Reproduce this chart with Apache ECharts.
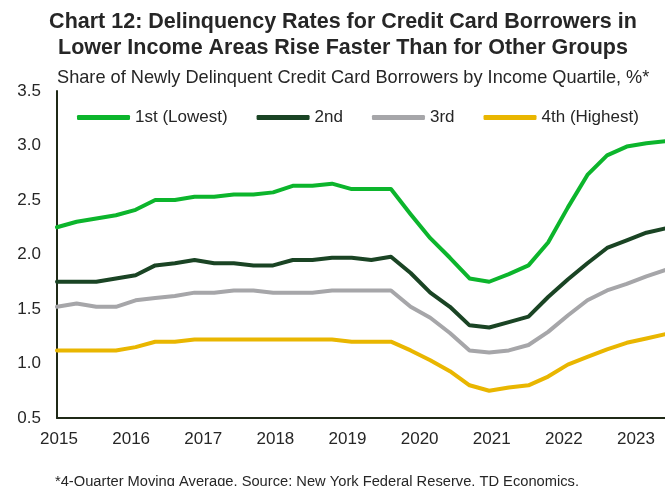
<!DOCTYPE html>
<html>
<head>
<meta charset="utf-8">
<script src="https://cdn.jsdelivr.net/npm/echarts@6/dist/echarts.min.js"></script>
<style>
  html, body { margin: 0; padding: 0; background: #ffffff; }
  #chart { width: 665px; height: 486px; }
</style>
</head>
<body>
<div id="chart"></div>
<script>
// Quarterly observations (4-quarter moving average)
const periods = [
  '2015Q3','2015Q4','2016Q1','2016Q2','2016Q3','2016Q4','2017Q1','2017Q2',
  '2017Q3','2017Q4','2018Q1','2018Q2','2018Q3','2018Q4','2019Q1','2019Q2',
  '2019Q3','2019Q4','2020Q1','2020Q2','2020Q3','2020Q4','2021Q1','2021Q2',
  '2021Q3','2021Q4','2022Q1','2022Q2','2022Q3','2022Q4','2023Q1','2023Q2'
];

// Share of newly delinquent credit card borrowers, % — by income quartile
const q1Lowest = [
  2.25, 2.30, 2.33, 2.36, 2.41, 2.50, 2.50, 2.53, 2.53, 2.55, 2.55, 2.57,
  2.63, 2.63, 2.65, 2.60, 2.60, 2.60, 2.37, 2.15, 1.97, 1.78, 1.75, 1.82,
  1.90, 2.11, 2.43, 2.73, 2.91, 2.99, 3.02, 3.04
];
const q2 = [
  1.75, 1.75, 1.75, 1.78, 1.81, 1.90, 1.92, 1.95, 1.92, 1.92, 1.90, 1.90,
  1.95, 1.95, 1.97, 1.97, 1.95, 1.98, 1.83, 1.65, 1.52, 1.35, 1.33, 1.38,
  1.43, 1.61, 1.77, 1.92, 2.06, 2.13, 2.20, 2.24
];
const q3 = [
  1.52, 1.55, 1.52, 1.52, 1.58, 1.60, 1.62, 1.65, 1.65, 1.67, 1.67, 1.65,
  1.65, 1.65, 1.67, 1.67, 1.67, 1.67, 1.52, 1.42, 1.28, 1.12, 1.10, 1.12,
  1.17, 1.29, 1.44, 1.58, 1.67, 1.73, 1.80, 1.86
];
const q4Highest = [
  1.12, 1.12, 1.12, 1.12, 1.15, 1.20, 1.20, 1.22, 1.22, 1.22, 1.22, 1.22,
  1.22, 1.22, 1.22, 1.20, 1.20, 1.20, 1.12, 1.03, 0.93, 0.80, 0.75, 0.78,
  0.80, 0.88, 0.99, 1.06, 1.13, 1.19, 1.23, 1.27
];

// Year labels along the bottom axis
const yearLabels = [2015, 2016, 2017, 2018, 2019, 2020, 2021, 2022, 2023];

const seriesNames = ['1st (Lowest)', '2nd', '3rd', '4th (Highest)'];
const seriesColors = ['#0cb52c', '#1a4424', '#a6a6a9', '#e9b600'];
const seriesData = [q1Lowest, q2, q3, q4Highest];

const FONT = '"Liberation Sans", Arial, sans-serif';
const TEXT = '#262626';
const AXIS = '#1f2917';

const chart = echarts.init(document.getElementById('chart'), null, { renderer: 'canvas' });

chart.setOption({
  animation: false,
  backgroundColor: '#ffffff',
  textStyle: { fontFamily: FONT, color: TEXT },
  title: [
    {
      text: 'Chart 12: Delinquency Rates for Credit Card Borrowers in\nLower Income Areas Rise Faster Than for Other Groups',
      left: 338,
      top: 4,
      textAlign: 'center',
      textStyle: { fontFamily: FONT, fontSize: 21.5, fontWeight: 'bold', lineHeight: 26, color: TEXT }
    },
    {
      text: 'Share of Newly Delinquent Credit Card Borrowers by Income Quartile, %*',
      left: 52,
      top: 64,
      textStyle: { fontFamily: FONT, fontSize: 18.2, fontWeight: 'normal', color: TEXT }
    },
    {
      text: '*4-Quarter Moving Average. Source: New York Federal Reserve, TD Economics.',
      left: 312,
      top: 469,
      textAlign: 'center',
      textStyle: { fontFamily: FONT, fontSize: 14.7, fontWeight: 'normal', color: TEXT }
    }
  ],
  legend: {
    left: 77,
    top: 109,
    padding: 0,
    itemWidth: 53,
    itemHeight: 5,
    itemGap: 29,
    icon: 'roundRect',
    textStyle: { fontFamily: FONT, fontSize: 17, color: TEXT },
    data: seriesNames
  },
  grid: {
    left: 57,
    right: -1,
    top: 91,
    bottom: 68,
    containLabel: false,
    outerBoundsMode: 'none'
  },
  xAxis: [
    {
      type: 'category',
      data: periods,
      boundaryGap: false,
      show: false
    },
    {
      type: 'value',
      position: 'bottom',
      min: 2014.972,
      max: 2023.416,
      axisLine: { show: true, onZero: false, lineStyle: { color: AXIS, width: 2 } },
      axisTick: { show: false },
      splitLine: { show: false },
      axisLabel: {
        customValues: yearLabels,
        formatter: v => String(v),
        fontFamily: FONT,
        fontSize: 17,
        color: TEXT,
        margin: 13
      }
    }
  ],
  yAxis: {
    type: 'value',
    min: 0.5,
    max: 3.5,
    interval: 0.5,
    axisLine: { show: true, lineStyle: { color: AXIS, width: 2 } },
    axisTick: { show: false },
    splitLine: { show: false },
    axisLabel: {
      formatter: v => v.toFixed(1),
      fontFamily: FONT,
      fontSize: 17,
      color: TEXT,
      margin: 16
    }
  },
  series: seriesNames.map((name, i) => ({
    name,
    type: 'line',
    xAxisIndex: 0,
    data: seriesData[i],
    symbol: 'none',
    color: seriesColors[i],
    lineStyle: { width: 4, color: seriesColors[i], join: 'round', cap: 'round' },
    z: 10 - i
  }))
});
</script>
</body>
</html>
